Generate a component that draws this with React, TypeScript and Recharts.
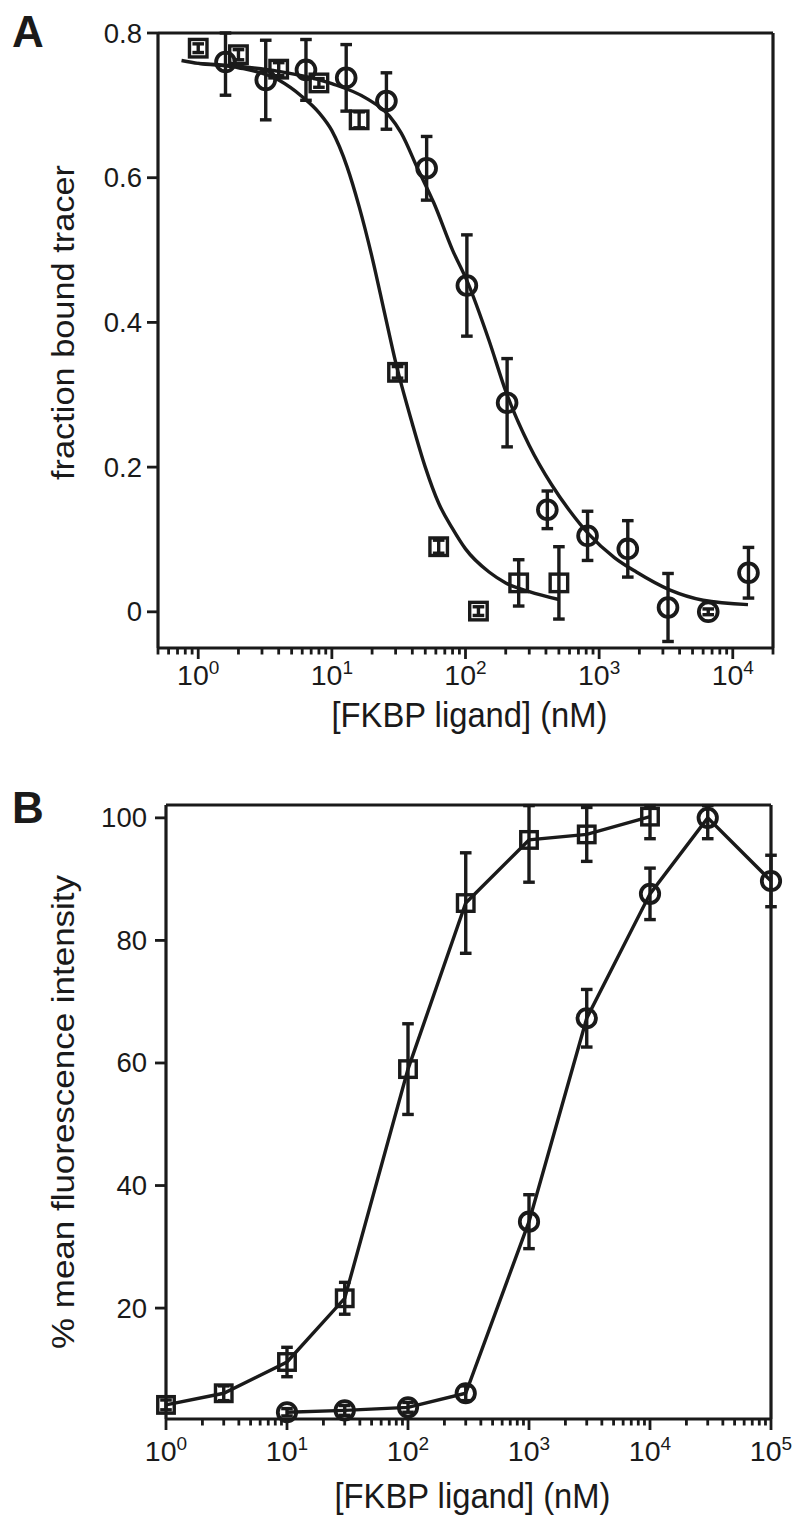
import React from 'react';
import { ComposedChart, Scatter, Line, XAxis, YAxis, ErrorBar, Label, ReferenceLine } from 'recharts';

const INK = '#1a1a1a';
const FONT = '"Liberation Sans", Arial, Helvetica, sans-serif';

// ---- panel A: tracer displacement ----
const sqConc = [1, 2, 4, 8, 16, 31, 63, 125, 250, 500];
const sqBound = [0.779, 0.77, 0.75, 0.731, 0.68, 0.331, 0.09, 0.001, 0.04, 0.04];
const sqBoundErr = [0.006, 0.007, 0.009, 0.006, 0.011, 0.008, 0.009, 0.006, 0.032, 0.05];

const ciConc = [1.6, 3.2, 6.4, 12.8, 25.6, 51.2, 102.4, 204.8, 409.6, 819.2, 1638.4, 3276.8, 6553.6, 13107.2];
const ciBound = [0.76, 0.735, 0.749, 0.738, 0.706, 0.613, 0.451, 0.289, 0.141, 0.105, 0.087, 0.006, 0, 0.054];
const ciBoundErr: (number | number[])[] = [[0.046, 0.04], 0.055, 0.042, 0.046, 0.039, 0.044, 0.07, 0.061, 0.026, 0.034, 0.039, 0.047, 0.004, 0.035];

// fitted curves
const fitSqConc = [0.75, 1, 2, 4, 6, 8, 10, 13, 16, 20, 25, 30, 40, 50, 63, 80, 100, 150, 200, 300, 500];
const fitSqBound = [0.762, 0.758, 0.752, 0.735, 0.712, 0.69, 0.665, 0.615, 0.56, 0.49, 0.41, 0.345, 0.26, 0.2, 0.15, 0.115, 0.087, 0.055, 0.04, 0.028, 0.017];
const fitCiConc = [1, 2, 4, 10, 18, 27, 33, 44, 58, 80, 104, 150, 200, 300, 440, 600, 840, 1300, 1900, 3400, 6000, 13000];
const fitCiBound = [0.758, 0.754, 0.747, 0.73, 0.71, 0.685, 0.662, 0.612, 0.565, 0.5, 0.455, 0.375, 0.305, 0.23, 0.176, 0.14, 0.107, 0.075, 0.055, 0.03, 0.016, 0.01];

const xDomainA = [0.5, 20000];
const yDomainA = [-0.05, 0.8];
const xTicksA = [1, 10, 100, 1000, 10000];
const yTicksA = [0, 0.2, 0.4, 0.6, 0.8];
const yLabelsA = ['0', '0.2', '0.4', '0.6', '0.8'];

// ---- panel B: fluorescence ----
const sqDose = [1, 3, 10, 30, 100, 300, 1000, 3000, 10000];
const sqMfi = [4.2, 6.1, 11.2, 21.6, 59, 86.1, 96.4, 97.3, 100.2];
const sqMfiErr: (number | number[])[] = [0.8, 1.2, 2.4, 2.6, 7.4, 8.2, [6.9, 5.6], 4.4, [3.6, 1.8]];
const ciDose = [10, 30, 100, 300, 1000, 3000, 10000, 30000, 100000];
const ciMfi = [3.0, 3.3, 3.8, 6.1, 34.1, 67.3, 87.6, 100, 89.7];
const ciMfiErr: (number | number[])[] = [0.6, 0.8, 0.8, 1.2, 4.4, 4.7, 4.2, [3.4, 2.0], 4.2];

const xDomainB = [1, 100000];
const yDomainB = [1.9, 102.1];
const xTicksB = [1, 10, 100, 1000, 10000, 100000];
const yTicksB = [20, 40, 60, 80, 100];
const yLabelsB = ['20', '40', '60', '80', '100'];

const xTitle = '[FKBP ligand] (nM)';

const rows = (xs: number[], ys: number[], es?: any[]) =>
  xs.map((x, i) => ({ x, y: ys[i], e: es ? es[i] : undefined }));

const sqA = rows(sqConc, sqBound, sqBoundErr);
const ciA = rows(ciConc, ciBound, ciBoundErr);
const fitSq = rows(fitSqConc, fitSqBound);
const fitCi = rows(fitCiConc, fitCiBound);
const sqB = rows(sqDose, sqMfi, sqMfiErr);
const ciB = rows(ciDose, ciMfi, ciMfiErr);

// major + minor log ticks inside the domain
const logTicks = (lo: number, hi: number) => {
  const out: number[] = [];
  for (let d = 0.1; d <= hi; d *= 10) {
    for (let m = 1; m < 10; m++) {
      const v = +(d * m).toPrecision(3);
      if (v >= lo && v <= hi) out.push(v);
    }
  }
  return out;
};

const LINE_W = 3.4;

const squareShape = (side: number) => (p: any) => {
  if (p.cx == null || p.cy == null) return <g key={`s${p.index}`} />;
  return (
    <rect key={`s${p.index}`} x={p.cx - side / 2} y={p.cy - side / 2} width={side} height={side}
      fill="none" stroke={INK} strokeWidth={3.4} />
  );
};
const ringShape = (r: number) => (p: any) => {
  if (p.cx == null || p.cy == null) return <g key={`c${p.index}`} />;
  return <circle key={`c${p.index}`} cx={p.cx} cy={p.cy} r={r} fill="none" stroke={INK} strokeWidth={3.8} />;
};

const logTick = (majors: number[], labelDy: number) => (props: any) => {
  const { x, y, payload } = props;
  const v = payload.value;
  const major = majors.includes(v);
  return (
    <g>
      <line x1={x} x2={x} y1={y} y2={y + (major ? 11 : 6.5)} stroke={INK} strokeWidth={2.8} />
      {major && (
        <text x={x} y={y + labelDy} textAnchor="middle" fontSize={28.5} fill={INK} fontFamily={FONT}>
          10<tspan dy={-11} fontSize={19}>{Math.round(Math.log10(v))}</tspan>
        </text>
      )}
    </g>
  );
};

const valueTick = (ticks: number[], labels: string[], gap: number) => (props: any) => {
  const { x, y, payload } = props;
  const i = ticks.indexOf(payload.value);
  return (
    <g>
      <line x1={x - 11} x2={x} y1={y} y2={y} stroke={INK} strokeWidth={2.8} />
      <text x={x - gap} y={y + 9.5} textAnchor="end" fontSize={27.5} fill={INK} fontFamily={FONT}>
        {labels[i]}
      </text>
    </g>
  );
};

const xTitleLabel = (dy: number) => (props: any) => {
  const vb = props.viewBox;
  return (
    <text x={vb.x + vb.width / 2 + 4} y={vb.y + dy} textAnchor="middle" fontSize={35} fill={INK}
      fontFamily={FONT} textLength={276} lengthAdjust="spacingAndGlyphs">
      {xTitle}
    </text>
  );
};

const yTitleLabel = (text: string, len: number, shift: number) => (props: any) => {
  const vb = props.viewBox;
  const cx = 74;
  const cy = vb.y + vb.height / 2 + shift;
  return (
    <text x={cx} y={cy} transform={`rotate(-90, ${cx}, ${cy})`} textAnchor="middle" fontSize={32}
      fill={INK} fontFamily={FONT} textLength={len} lengthAdjust="spacingAndGlyphs">
      {text}
    </text>
  );
};

const axisLine = { stroke: INK, strokeWidth: 3.2 };

function PanelA() {
  return (
    <ComposedChart width={800} height={760} margin={{ top: 33, right: 27, bottom: 0, left: 0 }}>
      <XAxis type="number" dataKey="x" scale="log" domain={xDomainA} ticks={logTicks(xDomainA[0], xDomainA[1])}
        interval={0} tickSize={0} tickMargin={0} tickLine={false} tick={logTick(xTicksA, 37)} axisLine={axisLine}
        height={112}>
        <Label content={xTitleLabel(79)} />
      </XAxis>
      <YAxis type="number" domain={yDomainA} ticks={yTicksA} interval={0} tickSize={0} tickMargin={0}
        tickLine={false} tick={valueTick(yTicksA, yLabelsA, 16)} axisLine={axisLine} width={158}>
        <Label content={yTitleLabel('fraction bound tracer', 315, -18)} />
      </YAxis>
      {/* top and right edges of the box */}
      <ReferenceLine y={yDomainA[1]} stroke={INK} strokeWidth={3.2} />
      <ReferenceLine x={xDomainA[1]} stroke={INK} strokeWidth={3.2} />
      <Line data={fitSq} dataKey="y" type="monotone" dot={false} activeDot={false} stroke={INK} strokeWidth={LINE_W}
        isAnimationActive={false} />
      <Line data={fitCi} dataKey="y" type="monotone" dot={false} activeDot={false} stroke={INK} strokeWidth={LINE_W}
        isAnimationActive={false} />
      <Scatter data={sqA} dataKey="y" shape={squareShape(17.5)} isAnimationActive={false}>
        <ErrorBar dataKey="e" direction="y" width={5.8} stroke={INK} strokeWidth={3.4} isAnimationActive={false} />
      </Scatter>
      <Scatter data={ciA} dataKey="y" shape={ringShape(9.4)} isAnimationActive={false}>
        <ErrorBar dataKey="e" direction="y" width={5.8} stroke={INK} strokeWidth={3.4} isAnimationActive={false} />
      </Scatter>
    </ComposedChart>
  );
}

function PanelB() {
  return (
    <ComposedChart width={800} height={769} margin={{ top: 45, right: 29, bottom: 0, left: 0 }}>
      <XAxis type="number" dataKey="x" scale="log" domain={xDomainB} ticks={logTicks(xDomainB[0], xDomainB[1])}
        interval={0} tickSize={0} tickMargin={0} tickLine={false} tick={logTick(xTicksB, 42)} axisLine={axisLine}
        height={110}>
        <Label content={xTitleLabel(89)} />
      </XAxis>
      <YAxis type="number" domain={yDomainB} ticks={yTicksB} interval={0} tickSize={0} tickMargin={0}
        tickLine={false} tick={valueTick(yTicksB, yLabelsB, 19)} axisLine={axisLine} width={166}>
        <Label content={yTitleLabel('% mean fluorescence intensity', 474, 0)} />
      </YAxis>
      <ReferenceLine y={yDomainB[1]} stroke={INK} strokeWidth={3.2} />
      <ReferenceLine x={xDomainB[1]} stroke={INK} strokeWidth={3.2} />
      <Line data={sqB} dataKey="y" type="linear" stroke={INK} strokeWidth={LINE_W} dot={squareShape(16.5)}
        activeDot={false} isAnimationActive={false}>
        <ErrorBar dataKey="e" direction="y" width={5.8} stroke={INK} strokeWidth={3.4} isAnimationActive={false} />
      </Line>
      <Line data={ciB} dataKey="y" type="linear" stroke={INK} strokeWidth={LINE_W} dot={ringShape(9.2)}
        activeDot={false} isAnimationActive={false}>
        <ErrorBar dataKey="e" direction="y" width={5.8} stroke={INK} strokeWidth={3.4} isAnimationActive={false} />
      </Line>
    </ComposedChart>
  );
}

export default function App() {
  return (
    <div style={{ position: 'absolute', left: 0, top: 0, width: 800, height: 1529, background: '#fff' }}>
      <div style={{ position: 'absolute', left: 0, top: 0 }}>
        <PanelA />
      </div>
      <div style={{ position: 'absolute', left: 0, top: 760 }}>
        <PanelB />
      </div>
      <svg width={800} height={1529} style={{ position: 'absolute', left: 0, top: 0, pointerEvents: 'none' }}>
        <text x={12} y={47} fontSize={44} fontWeight="bold" fill={INK} fontFamily={FONT}>A</text>
        <text x={12} y={823} fontSize={44} fontWeight="bold" fill={INK} fontFamily={FONT}>B</text>
      </svg>
    </div>
  );
}
